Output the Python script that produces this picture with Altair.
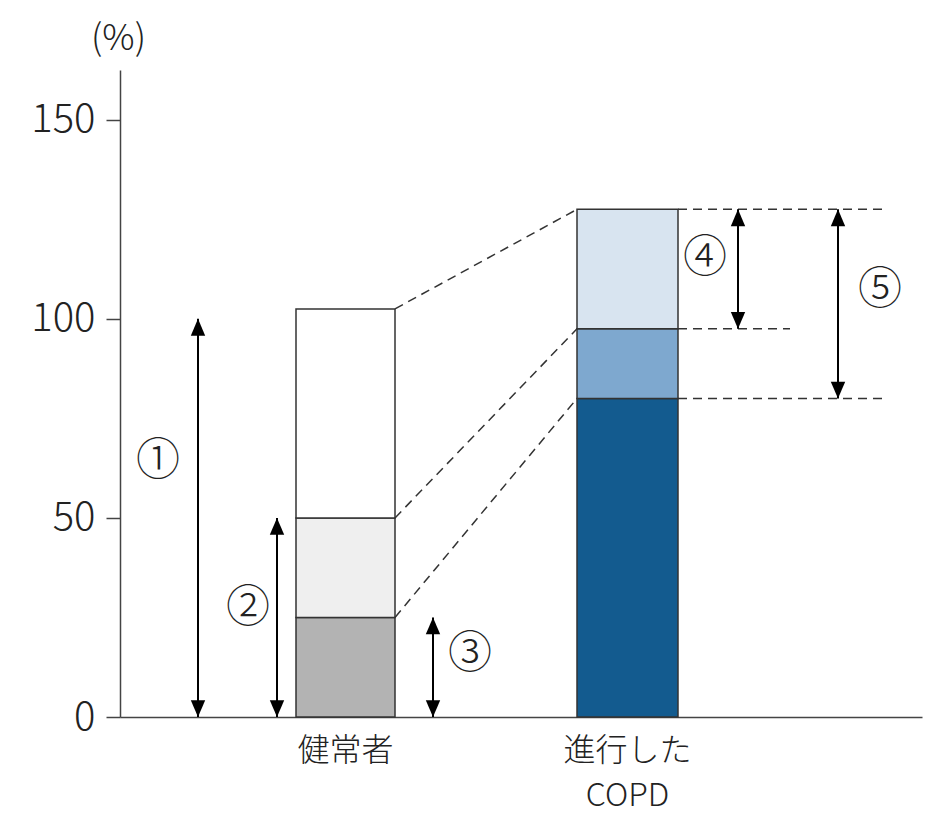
import altair as alt
import pandas as pd

# --- data -------------------------------------------------------------
categories = ["健常者", "進行した\nCOPD"]
healthy_values = [25, 25, 52.5]        # stacked bottom -> top
copd_values = [80, 17.5, 30]
healthy_colors = ["#b3b3b3", "#efefef", "#ffffff"]
copd_colors = ["#135b8f", "#7ea8cf", "#d8e4f0"]

arrow_labels = ["①", "②", "③", "④", "⑤"]
arrow_from = [0, 0, 0, 97.5, 80]
arrow_to = [100, 50, 25, 127.5, 127.5]
y_ticks = [0, 50, 100, 150]

# --- layout (plot units: x 0..802, y in %) -----------------------------
bar_left = [176, 457]
bar_right = [275, 558]
arrow_x = [78, 157, 313, 618, 718]
label_x = [38, 128, 350, 585, 760]
label_y = [64, 27, 15.5, 115, 107]
guide_end = [768, 670, 768]          # right end of dashed guides (top, mid, low)

FONT = "Noto Sans CJK JP"
W, H = 802, 647
x_scale = alt.Scale(domain=[0, W], nice=False, zero=False)
y_scale = alt.Scale(domain=[0, 162.5], nice=False)
x_axis = alt.Axis(title=None, labels=False, ticks=False, grid=False,
                  domainColor="#444", domainWidth=1.5)
y_axis = alt.Axis(title="(%)", values=y_ticks, grid=False, tickSize=14,
                  tickColor="#444", tickWidth=1.5, domainColor="#444",
                  domainWidth=1.5, labelFont=FONT, labelFontSize=40,
                  labelFontWeight=300, labelColor="#222", labelPadding=11,
                  titleAngle=0, titleX=-2, titleY=-32, titleAlign="center",
                  titleBaseline="middle", titleFont=FONT, titleFontSize=36,
                  titleFontWeight=300, titleColor="#222")


def X(f):
    return alt.X(f, type="quantitative", scale=x_scale, axis=x_axis)


def Y(f):
    return alt.Y(f, type="quantitative", scale=y_scale, axis=y_axis)


# stacked bar segments
seg_rows = []
for ci, (vals, cols) in enumerate([(healthy_values, healthy_colors), (copd_values, copd_colors)]):
    bottom = 0
    for si, (v, c) in enumerate(zip(vals, cols)):
        seg_rows.append({"x": bar_left[ci], "x2": bar_right[ci], "y": bottom,
                         "y2": bottom + v, "seg": f"{ci}-{si}", "col": c})
        bottom += v
segs = pd.DataFrame(seg_rows)

bars = alt.Chart(segs).mark_rect(stroke="#333", strokeWidth=1.5).encode(
    x=X("x"), x2="x2", y=Y("y"), y2="y2",
    color=alt.Color("seg:N", scale=alt.Scale(domain=list(segs["seg"]), range=list(segs["col"])), legend=None)
)

# dashed connectors between the bars
h_top = pd.Series(healthy_values).cumsum().tolist()
c_top = pd.Series(copd_values).cumsum().tolist()
conn = pd.DataFrame({"x": [bar_right[0]] * 3, "x2": [bar_left[1]] * 3,
                     "y": h_top, "y2": c_top})
connectors = alt.Chart(conn).mark_rule(strokeDash=[9, 6], strokeWidth=1.5, color="#333").encode(
    x=X("x"), x2="x2", y=Y("y"), y2="y2")

guides_df = pd.DataFrame({"x": [bar_right[1]] * 3, "x2": guide_end,
                          "y": [c_top[2], c_top[1], c_top[0]]})
guides = alt.Chart(guides_df).mark_rule(strokeDash=[9, 6], strokeWidth=1.5, color="#333").encode(
    x=X("x"), x2="x2", y=Y("y"))

# arrows
arr = pd.DataFrame({"x": arrow_x, "y": arrow_from, "y2": arrow_to})
shafts = alt.Chart(arr).mark_rule(strokeWidth=2, color="#000").encode(
    x=X("x"), y=Y("y"), y2="y2")

heads_up = alt.Chart(pd.DataFrame({"x": arrow_x, "y": arrow_to})).mark_point(
    shape="M0,0L0.9,2.1L-0.9,2.1Z", size=256, filled=True, color="#000", opacity=1
).encode(x=X("x"), y=Y("y"))
heads_down = alt.Chart(pd.DataFrame({"x": arrow_x, "y": arrow_from})).mark_point(
    shape="M0,0L0.9,-2.1L-0.9,-2.1Z", size=256, filled=True, color="#000", opacity=1
).encode(x=X("x"), y=Y("y"))

nums = alt.Chart(pd.DataFrame({"x": label_x, "y": label_y, "t": arrow_labels})).mark_text(
    font=FONT, fontSize=44, fontWeight=300, color="#222"
).encode(x=X("x"), y=Y("y"), text="t:N")

# category labels under the axis, one text mark per line
cat_rows = []
for l, r, name in zip(bar_left, bar_right, categories):
    for li, part in enumerate(name.split("\n")):
        cat_rows.append({"x": (l + r) / 2, "t": part, "line": li})
cats = pd.DataFrame(cat_rows)

cat_layers = []
for li in sorted(cats["line"].unique()):
    cat_layers.append(
        alt.Chart(cats[cats["line"] == li]).mark_text(
            font=FONT, fontSize=32, fontWeight=300, color="#222",
            baseline="top", dy=19 + 45 * int(li)
        ).encode(x=X("x"), y=alt.datum(0, scale=y_scale), text="t:N")
    )

chart = alt.layer(bars, connectors, guides, shafts, heads_up, heads_down, nums, *cat_layers).properties(
    width=W, height=H,
    autosize=alt.AutoSizeParams(type="none"),
    padding={"left": 112, "top": 62, "right": 9, "bottom": 101},
    background="white",
).configure_view(stroke=None)

chart.save("out.html", embed_options={"renderer": "svg", "actions": False})
